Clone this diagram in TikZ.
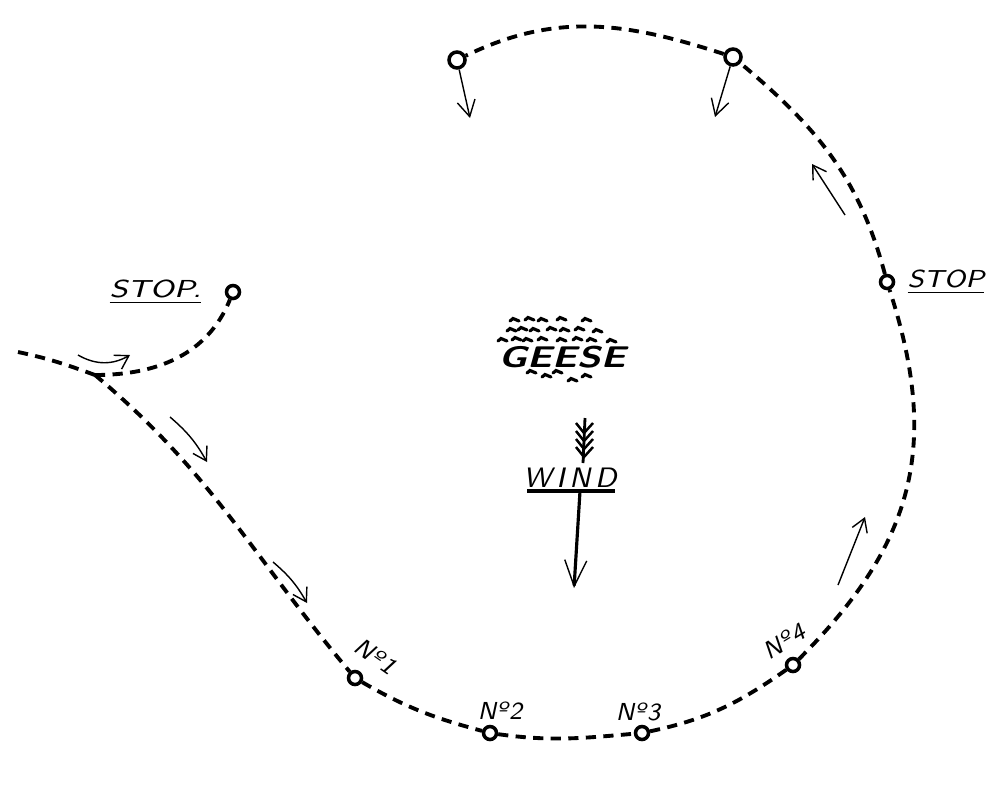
\documentclass[tikz,border=0pt]{standalone}
\usepackage{fontspec}
\usepackage{tikz}
\usetikzlibrary{arrows.meta,positioning,calc}

\newcommand{\numero}[1]{N\textordmasculine\kern.08em#1}
\newcommand{\wide}[2][1.25]{\scalebox{#1}[1]{#2}}

\begin{document}
\begin{tikzpicture}
	[every node/.style={font=\sffamily\slshape\fontsize{7}{8}\selectfont},
	station/.style={circle,draw=black,line width=1pt,inner sep=0pt,minimum size=1.3mm},
	track/.style={line width=1.1pt,dash pattern=on 2.9pt off 2.1pt},
	hint/.style={thin,-{Straight Barb[length=1.3mm,width=1.6mm]}},
	goose/.style={line width=0.9pt,line cap=round}]
	\fill[white] (0,0) rectangle (10,7.87);
	\useasboundingbox (0,0) rectangle (10,7.87);
	
	% stations round the geese
	\coordinate (lane) at (0.18,4.35);
	\coordinate (fork) at (0.95,4.12);
	\node[station] (stopL) at (2.33,4.95) {};
	\node[station] (n1) at (3.55,1.09) {};
	\node[station] (n2) at (4.90,0.54) {};
	\node[station] (n3) at (6.42,0.54) {};
	\node[station] (n4) at (7.93,1.22) {};
	\node[station] (stopR) at (8.87,5.05) {};
	\node[station,minimum size=1.6mm] (topR) at (7.33,7.30) {};
	\node[station,minimum size=1.6mm] (topL) at (4.57,7.27) {};
	
	\foreach \from/\to/\o/\i/\l in {lane/fork/-12/160/1, fork/stopL/0/-112/1, fork/n1/-40/130/1,
		n1/n2/-30/165/1, n2/n3/-8/185/1, n3/n4/12/-145/1, n4/stopR/45/-72/1.1,
		stopR/topR/105/-40/1, topR/topL/162/26/1}
	\draw[track] (\from) to[out=\o,in=\i,looseness=\l] (\to);
	
	% labels
	\node[left=1.1mm of stopL] (stopLtext) {\wide{\underline{STOP.}}};
	\node[right=0mm of stopR] (stopRtext) {\wide[1.12]{\underline{STOP}}};
	\node[rotate=-35] (lab1) at (3.76,1.31) {\numero{1}};
	\node (lab2) at (5.00,0.76) {\numero{2}};
	\node (lab3) at (6.38,0.75) {\numero{3}};
	\node[rotate=31] (lab4) at (7.84,1.46) {\numero{4}};
	
	% direction hints
	\coordinate (h1a) at (0.78,4.32); \coordinate (h1b) at (1.30,4.32);
	\coordinate (h2a) at (1.70,3.70); \coordinate (h2b) at (2.07,3.25);
	\coordinate (h3a) at (2.73,2.25); \coordinate (h3b) at (3.07,1.84);
	\coordinate (h4a) at (8.38,2.02); \coordinate (h4b) at (8.65,2.70);
	\coordinate (h5a) at (8.45,5.72); \coordinate (h5b) at (8.12,6.23);
	\coordinate (fallL) at (4.70,6.69);
	\coordinate (fallR) at (7.15,6.70);
	\draw[hint] (h1a) to[bend right=30] (h1b);
	\draw[hint] (h2a) to[bend left=10] (h2b);
	\draw[hint] (h3a) to[bend left=10] (h3b);
	\draw[hint] (h4a) -- (h4b);
	\draw[hint] (h5a) -- (h5b);
	\draw[hint,-{Straight Barb[length=1.6mm,width=1.8mm]}] (topL) -- (fallL);
	\draw[hint,-{Straight Barb[length=1.6mm,width=1.8mm]}] (topR) -- (fallR);
	
	% geese
	\node[font=\sffamily\slshape\bfseries\fontsize{8.5}{9}\selectfont] (geese) at (5.62,4.30) {\wide[1.3]{GEESE}};
	\foreach \x/\y in {5.10/4.66, 5.25/4.67, 5.38/4.66, 5.57/4.67, 5.82/4.66,
		5.07/4.56, 5.18/4.57, 5.30/4.56, 5.47/4.57, 5.60/4.56, 5.75/4.57, 5.93/4.55,
		4.98/4.46, 5.12/4.47, 5.23/4.46, 5.38/4.47, 5.57/4.46, 5.73/4.47, 5.87/4.46, 6.07/4.45,
		5.27/4.14, 5.42/4.10, 5.53/4.14, 5.68/4.06, 5.82/4.10}
	\draw[goose] (\x,\y) -- ++(0.03,0.025) -- ++(0.06,-0.025);
	
	% wind
	\node[font=\sffamily\slshape\fontsize{8}{9}\selectfont] (wind) at (5.70,3.09) {W\,I\,N\,D};
	\coordinate (windL) at (5.27,2.96); \coordinate (windR) at (6.15,2.96);
	\coordinate (shaft) at (5.80,2.96); \coordinate (windtip) at (5.74,1.99);
	\coordinate (vane) at (5.85,3.69); \coordinate (vanetip) at (5.83,3.24);
	\draw[line width=0.9pt] (windL) -- (windR);
	\draw[line width=0.9pt,-{Straight Barb[length=2.6mm,width=2.2mm,line width=0.4pt]}] (shaft) -- (windtip);
	\draw[line width=0.8pt] (vane) -- (vanetip);
	\foreach \k in {0,...,3}
	\draw[line width=0.7pt] ($(vane)+(-0.09,-0.05-0.08*\k)$) -- ($(vane)+(-0.01,-0.15-0.08*\k)$) -- ($(vane)+(0.08,-0.05-0.08*\k)$);
	
\end{tikzpicture}
\end{document}
